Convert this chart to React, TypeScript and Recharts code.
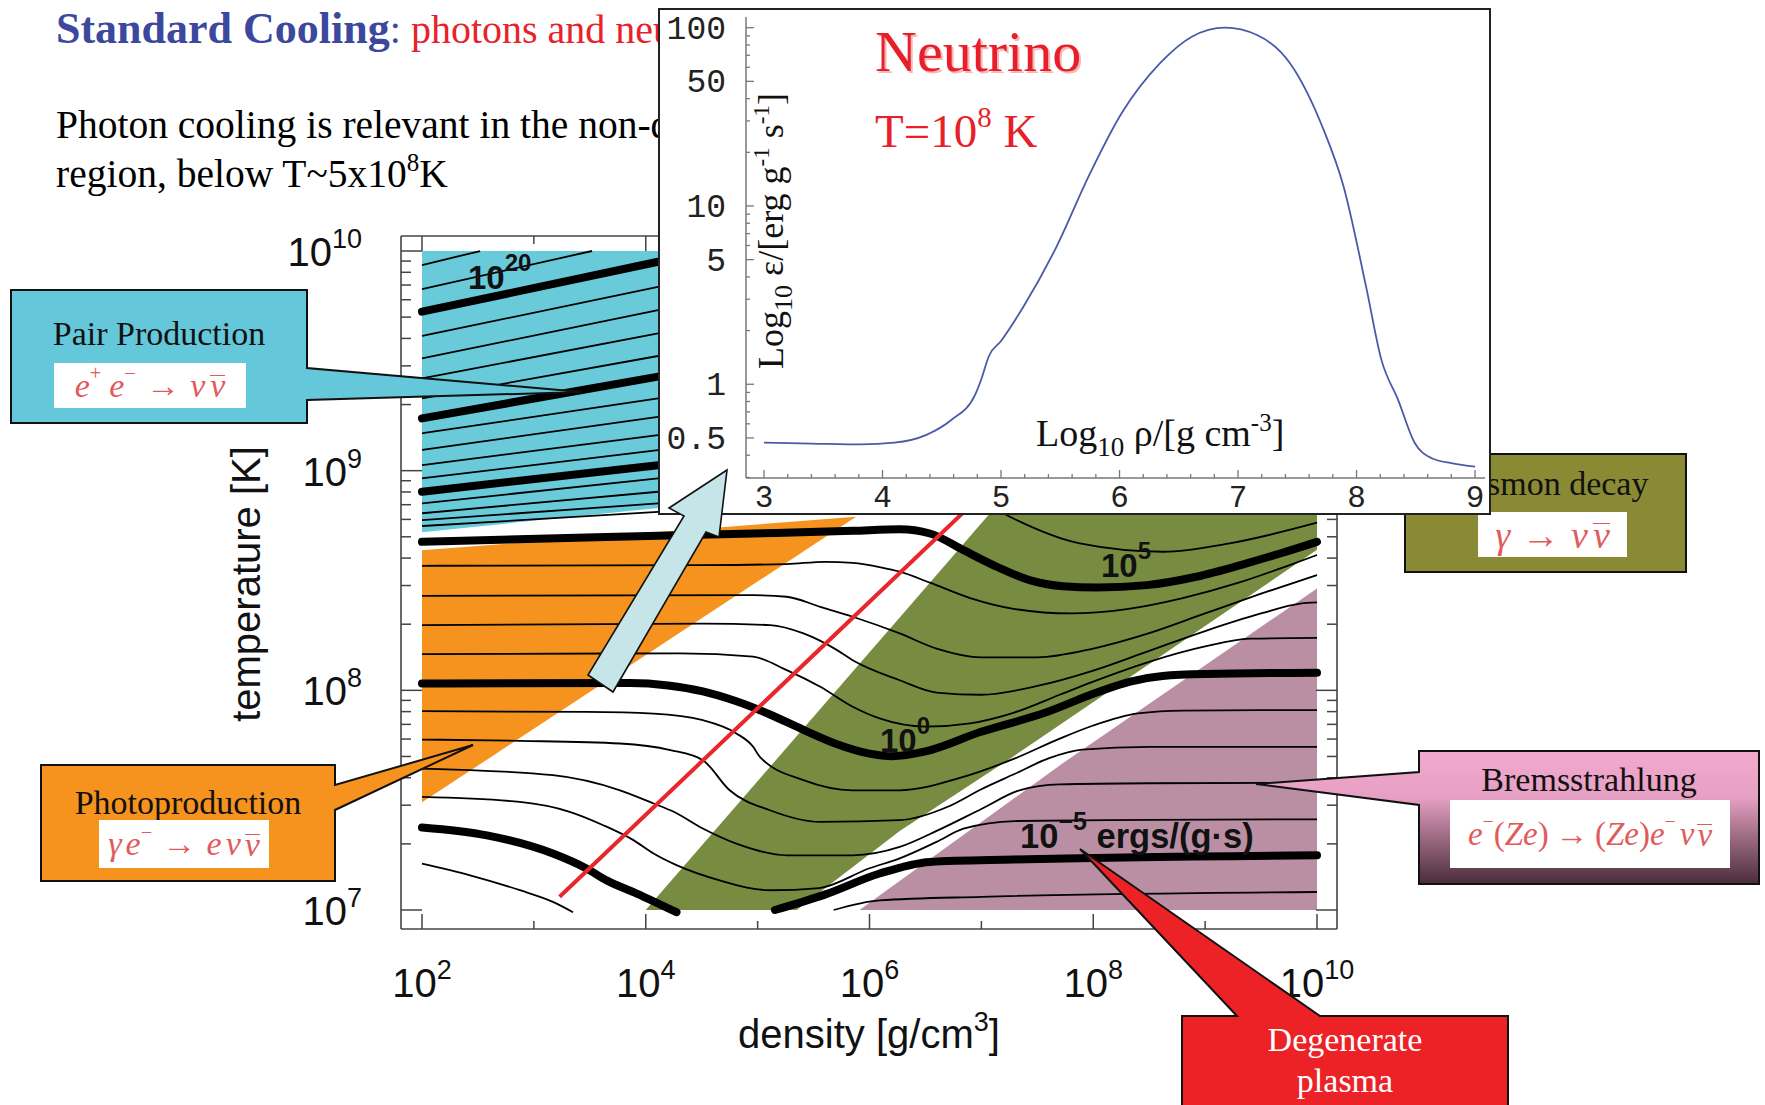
import React from 'react';
import { ComposedChart, LineChart, Line, Area, XAxis, YAxis } from 'recharts';

type Pt = [number, number | null];

const serif = '"Liberation Serif", "Times New Roman", serif';
const sans = '"Liberation Sans", Arial, sans-serif';
const mono = '"Liberation Mono", "Courier New", monospace';

// ---------- main chart axes (log10 density, log10 temperature) ----------
const DENSITY_TICKS = [2, 3, 4, 5, 6, 7, 8, 9, 10];
const TEMP_TICKS: number[] = [];
for (const k of [7, 8, 9]) for (let d = 1; d <= 9; d++) TEMP_TICKS.push(k + Math.log10(d));
TEMP_TICKS.push(10);
const X_DOMAIN: [number, number] = [1.8123, 10.1787];
const Y_DOMAIN: [number, number] = [6.9135, 10.0683];

// ---------- coloured regions: [log rho, low log T, high log T] ----------
const PAIR_REGION = [[2, 8.72, 10], [4.11, 8.83, 10], [4.5, 8.85, 10]];
const PHOTO_REGION = [[2, 7.49, 8.638], [5.88, 8.79, 8.79]];
const PLASMA_REGION = [[4.0, 7.0, 7.0], [5.35, 7.0, 7.792], [6.27, 7.36, 8.332], [7.23, 7.68, 8.896], [7.41, 7.742, 9.0], [10, 8.64, 9.0]];
const BREMS_REGION = [[5.91, 7.0, 7.0], [7.76, 7.0, 7.68], [10, 7.0, 8.464]];

// ---------- emissivity contours (log rho, log T) ----------
const C22: Pt[] = [[2, 9.936], [2.52, 10.0]];
const C21: Pt[] = [[2, 9.826], [3.52, 10.0]];
const C20: Pt[] = [[2, 9.724], [4.11, 9.951], [4.4, 9.982]];
const C19: Pt[] = [[2, 9.613], [4.11, 9.837], [4.4, 9.868]];
const C18: Pt[] = [[2, 9.511], [4.11, 9.731], [4.4, 9.761]];
const C17: Pt[] = [[2, 9.42], [4.11, 9.625], [4.4, 9.653]];
const C16: Pt[] = [[2, 9.329], [4.11, 9.522], [4.4, 9.549]];
const C15: Pt[] = [[2, 9.238], [4.11, 9.428], [4.4, 9.454]];
const C14: Pt[] = [[2, 9.17], [4.11, 9.329], [4.4, 9.351]];
const C13: Pt[] = [[2, 9.094], [4.11, 9.245], [4.4, 9.266]];
const C12: Pt[] = [[2, 9.025], [4.11, 9.162], [4.4, 9.181]];
const C11: Pt[] = [[2, 8.965], [4.11, 9.094], [4.4, 9.112]];
const C10: Pt[] = [[2, 8.904], [4.11, 9.025], [4.4, 9.042]];
const C9: Pt[] = [[2, 8.851], [4.11, 8.965], [4.4, 8.981]];
const C8: Pt[] = [[2, 8.806], [4.11, 8.904], [4.4, 8.918]];
const C7: Pt[] = [[2, 8.775], [4.11, 8.851], [4.6, 8.87]];
const C6: Pt[] = [[2, 8.748], [4.11, 8.812], [5.5, 8.86], [7.0, 8.86], [7.255, 8.79], [7.88, 8.669], [8.625, 8.631], [9.22, 8.669], [10, 8.763]];
const C5: Pt[] = [[2, 8.676], [3.47, 8.696], [4.96, 8.714], [5.85, 8.726], [6.27, 8.733], [6.54, 8.714], [6.84, 8.638], [7.14, 8.562], [7.43, 8.502], [7.73, 8.474], [8.03, 8.468], [8.48, 8.479], [8.92, 8.517], [9.37, 8.578], [9.67, 8.623], [10, 8.676]];
const C4: Pt[] = [[2, 8.567], [4.5, 8.57], [5.26, 8.575], [5.6, 8.585], [5.85, 8.58], [6.1, 8.56], [6.27, 8.54], [6.54, 8.49], [6.9, 8.42], [7.3, 8.37], [7.8, 8.35], [8.3, 8.37], [8.8, 8.42], [9.3, 8.49], [9.7, 8.56], [10, 8.616]];
const C3: Pt[] = [[2, 8.43], [4.96, 8.433], [5.26, 8.426], [5.56, 8.38], [5.85, 8.335], [6.27, 8.259], [6.6, 8.19], [7.0, 8.15], [7.5, 8.15], [8.0, 8.19], [8.5, 8.26], [9.0, 8.35], [9.5, 8.44], [10, 8.525]];
const C2: Pt[] = [[2, 8.297], [4.51, 8.304], [5.11, 8.297], [5.41, 8.259], [5.71, 8.183], [5.85, 8.137], [6.27, 8.046], [6.6, 7.99], [7.0, 7.98], [7.5, 8.02], [8.0, 8.09], [8.5, 8.18], [9.0, 8.27], [9.5, 8.35], [9.85, 8.395], [10, 8.4]];
const C1: Pt[] = [[2, 8.165], [4.31, 8.168], [4.96, 8.153], [5.26, 8.092], [5.56, 8.016], [5.85, 7.925], [6.09, 7.872], [6.5, 7.835], [6.9, 7.85], [7.3, 7.9], [7.7, 7.98], [8.0, 8.04], [8.5, 8.13], [9.0, 8.2], [9.4, 8.235], [10, 8.239]];
const C0: Pt[] = [[2, 8.031], [3.86, 8.033], [4.2, 8.022], [4.51, 7.995], [4.81, 7.95], [5.11, 7.89], [5.41, 7.82], [5.71, 7.755], [6.0, 7.712], [6.2, 7.7], [6.5, 7.722], [6.99, 7.81], [7.58, 7.9], [8.03, 7.99], [8.33, 8.04], [8.62, 8.065], [9.0, 8.074], [10, 8.08]];
const Cm1: Pt[] = [[2, 7.905], [3.47, 7.902], [4.07, 7.894], [4.51, 7.864], [4.81, 7.804], [4.96, 7.743], [5.02, 7.697], [5.41, 7.591], [5.85, 7.545], [6.27, 7.545], [6.8, 7.6], [7.3, 7.69], [7.7, 7.78], [8.0, 7.84], [8.4, 7.895], [8.8, 7.908], [10, 7.91]];
const Cm2: Pt[] = [[2, 7.776], [2.875, 7.77], [3.77, 7.758], [4.22, 7.728], [4.51, 7.682], [4.75, 7.545], [5.11, 7.454], [5.56, 7.401], [6.27, 7.409], [6.7, 7.47], [7.0, 7.55], [7.3, 7.62], [7.6, 7.69], [7.9, 7.73], [8.5, 7.743], [10, 7.743]];
const Cm3: Pt[] = [[2, 7.644], [3.17, 7.614], [3.77, 7.545], [4.07, 7.485], [4.25, 7.447], [4.51, 7.371], [4.81, 7.302], [5.26, 7.249], [5.85, 7.249], [6.27, 7.287], [6.6, 7.36], [7.0, 7.46], [7.34, 7.545], [7.7, 7.572], [8.5, 7.577], [10, 7.579]];
const Cm4: Pt[] = [[2, 7.515], [2.875, 7.492], [3.32, 7.447], [3.62, 7.386], [3.89, 7.318], [4.07, 7.257], [4.275, 7.204], [4.66, 7.135], [5.11, 7.09], [5.55, 7.1], [6.0, 7.19], [6.27, 7.235], [6.6, 7.31], [6.84, 7.37], [7.3, 7.405], [8.5, 7.41], [10, 7.413]];
const Cm5: Pt[] = [[2, 7.376], [2.58, 7.34], [3.17, 7.257], [3.47, 7.189], [3.65, 7.135], [3.92, 7.075], [4.275, 6.99], [4.7, null], [5.155, 7.0], [5.6, 7.07], [6.09, 7.166], [6.54, 7.219], [7.29, 7.23], [10, 7.249]];
const Cm6: Pt[] = [[2, 7.211], [2.43, 7.158], [2.875, 7.09], [3.17, 7.037], [3.35, 6.99], [4.5, null], [5.68, 7.0], [6.09, 7.044], [7.0, 7.06], [10, 7.082]];
const DEGENERACY_LINE: Pt[] = [[3.23, 7.06], [7.2, 8.985]];

const THIN = [C22, C21, C19, C18, C17, C16, C14, C13, C12, C11, C9, C8, C7, C6, C4, C3, C2, C1, Cm1, Cm2, Cm3, Cm4, Cm6];
const THICK = [C20, C15, C10, C5, C0, Cm5];

// ---------- inset: neutrino emissivity at T = 1e8 K ----------
const NU_LOGRHO = [3.0, 3.4, 3.82, 4.1, 4.37, 4.58, 4.78, 4.83, 4.9, 5.0, 5.19, 5.47, 5.74, 6.02, 6.34, 6.61, 6.89, 7.16, 7.44, 7.71, 7.89, 8.08, 8.21, 8.35, 8.49, 8.63, 8.81, 9.0];
const NU_EPS = [0.47, 0.465, 0.46, 0.47, 0.52, 0.63, 0.87, 1.05, 1.45, 1.75, 2.73, 5.94, 14.7, 33.3, 63, 89, 100, 91, 63, 28, 12.9, 3.54, 1.37, 0.82, 0.47, 0.386, 0.36, 0.345];
const INSET_X_LABELS = [3, 4, 5, 6, 7, 8, 9];
const INSET_X_TICKS = Array.from({ length: 31 }, (_, i) => +(3 + i * 0.2).toFixed(1));
const INSET_Y_TICKS = [0.3, 0.4, 0.5, 0.6, 0.7, 0.8, 0.9, 1, 2, 3, 4, 5, 6, 7, 8, 9, 10, 20, 30, 40, 50, 60, 70, 80, 90, 100];
const INSET_Y_LABELS = [0.5, 1, 5, 10, 50, 100];

const toXY = (pts: Pt[]) => pts.map(([x, y]) => ({ x, y }));
const toRange = (rows: number[][]) => rows.map(([x, lo, hi]) => ({ x, r: [lo, hi] }));
const isInt = (v: number) => Math.abs(v - Math.round(v)) < 1e-6;
const FRAME = '#444';

const BottomTick = (p: any) => {
  const { x, y, payload } = p;
  const v = payload.value;
  const even = v % 2 === 0;
  return (
    <g>
      <line x1={x} x2={x} y1={y} y2={y - (even ? 15 : 8)} stroke={FRAME} strokeWidth={1.5} />
      {even && (
        <text x={x} y={y + 68} textAnchor="middle" fontFamily={sans} fontSize={40} fill="#111">
          10<tspan dy={-18} fontSize={27}>{v}</tspan>
        </text>
      )}
    </g>
  );
};
const TopTick = (p: any) => {
  const { x, y, payload } = p;
  const even = payload.value % 2 === 0;
  return <line x1={x} x2={x} y1={y} y2={y + (even ? 15 : 8)} stroke={FRAME} strokeWidth={1.5} />;
};
const LeftTick = (p: any) => {
  const { x, y, payload } = p;
  const v = payload.value;
  const major = isInt(v);
  return (
    <g>
      <line x1={x} x2={x + (major ? 21 : 10)} y1={y} y2={y} stroke={FRAME} strokeWidth={1.5} />
      {major && (
        <text x={x - 39} y={y + 15} textAnchor="end" fontFamily={sans} fontSize={40} fill="#111">
          10<tspan dy={-18} fontSize={27}>{Math.round(v)}</tspan>
        </text>
      )}
    </g>
  );
};
const RightTick = (p: any) => {
  const { x, y, payload } = p;
  const major = isInt(payload.value);
  return <line x1={x} x2={x - (major ? 21 : 10)} y1={y} y2={y} stroke={FRAME} strokeWidth={1.5} />;
};

const InsetXTick = (p: any) => {
  const { x, y, payload } = p;
  const v = payload.value;
  const major = INSET_X_LABELS.includes(v);
  return (
    <g>
      <line x1={x} x2={x} y1={y} y2={y - (major ? 8 : 4)} stroke="#777" strokeWidth={1.3} />
      {major && (
        <text x={x} y={y + 29} textAnchor="middle" fontFamily={mono} fontSize={31} fill="#222">{v}</text>
      )}
    </g>
  );
};
const InsetYTick = (p: any) => {
  const { x, y, payload } = p;
  const v = payload.value;
  const major = INSET_Y_LABELS.includes(v);
  return (
    <g>
      <line x1={x} x2={x + (major ? 8 : 4)} y1={y} y2={y} stroke="#777" strokeWidth={1.3} />
      {major && (
        <text x={x - 20} y={y + 11} textAnchor="end" fontFamily={mono} fontSize={33} fill="#222">{v}</text>
      )}
    </g>
  );
};

const abs = (l: number, t: number, extra: any = {}) => ({ position: 'absolute' as const, left: l, top: t, ...extra });

function MainChart() {
  const axisLine = { stroke: FRAME, strokeWidth: 1.6 };
  return (
    <div style={abs(0, 0)}>
      <ComposedChart width={1765} height={1105} margin={{ top: 196, right: 368, bottom: 136, left: 341 }}>
        <XAxis xAxisId="b" orientation="bottom" dataKey="x" type="number" domain={X_DOMAIN} allowDataOverflow ticks={DENSITY_TICKS} interval={0} height={40} tickSize={0} tickMargin={0} tickLine={false} axisLine={axisLine} tick={<BottomTick />} />
        <XAxis xAxisId="t" orientation="top" dataKey="x" type="number" domain={X_DOMAIN} allowDataOverflow ticks={DENSITY_TICKS} interval={0} height={40} tickSize={0} tickMargin={0} tickLine={false} axisLine={axisLine} tick={<TopTick />} />
        <YAxis yAxisId="l" orientation="left" type="number" domain={Y_DOMAIN} allowDataOverflow ticks={TEMP_TICKS} interval={0} width={60} tickSize={0} tickMargin={0} tickLine={false} axisLine={axisLine} tick={<LeftTick />} />
        <YAxis yAxisId="r" orientation="right" type="number" domain={Y_DOMAIN} allowDataOverflow ticks={TEMP_TICKS} interval={0} width={60} tickSize={0} tickMargin={0} tickLine={false} axisLine={axisLine} tick={<RightTick />} />
        <Area xAxisId="b" yAxisId="l" data={toRange(PAIR_REGION)} dataKey="r" type="linear" stroke="none" fill="#69cad9" fillOpacity={1} isAnimationActive={false} dot={false} activeDot={false} />
        <Area xAxisId="b" yAxisId="l" data={toRange(PHOTO_REGION)} dataKey="r" type="linear" stroke="none" fill="#f6921e" fillOpacity={1} isAnimationActive={false} dot={false} activeDot={false} />
        <Area xAxisId="b" yAxisId="l" data={toRange(PLASMA_REGION)} dataKey="r" type="linear" stroke="none" fill="#788c41" fillOpacity={1} isAnimationActive={false} dot={false} activeDot={false} />
        <Area xAxisId="b" yAxisId="l" data={toRange(BREMS_REGION)} dataKey="r" type="linear" stroke="none" fill="#bb8fa3" fillOpacity={1} isAnimationActive={false} dot={false} activeDot={false} />
        {THIN.map((c, i) => (
          <Line key={'thin' + i} xAxisId="b" yAxisId="l" data={toXY(c)} dataKey="y" type="monotone" stroke="#000" strokeWidth={1.8} dot={false} activeDot={false} isAnimationActive={false} />
        ))}
        {THICK.map((c, i) => (
          <Line key={'thick' + i} xAxisId="b" yAxisId="l" data={toXY(c)} dataKey="y" type="monotone" stroke="#000" strokeWidth={8} strokeLinecap="round" strokeLinejoin="round" dot={false} activeDot={false} isAnimationActive={false} />
        ))}
        <Line xAxisId="b" yAxisId="l" data={toXY(DEGENERACY_LINE)} dataKey="y" type="linear" stroke="#e8262b" strokeWidth={4} dot={false} activeDot={false} isAnimationActive={false} />
      </ComposedChart>
    </div>
  );
}

function Inset() {
  const data = NU_LOGRHO.map((x, i) => ({ x, y: NU_EPS[i] }));
  return (
    <div style={abs(658, 8, { width: 833, height: 507, background: '#fff' })}>
      <LineChart width={833} height={507} data={data} margin={{ top: 9, right: 6, bottom: 7, left: 28 }}>
        <XAxis dataKey="x" type="number" domain={[2.848, 9.084]} allowDataOverflow ticks={INSET_X_TICKS} interval={0} height={30} tickSize={0} tickMargin={0} tickLine={false} axisLine={{ stroke: '#777', strokeWidth: 1.5 }} tick={<InsetXTick />} />
        <YAxis type="number" scale="log" domain={[0.298, 114.8]} allowDataOverflow ticks={INSET_Y_TICKS} interval={0} width={60} tickSize={0} tickMargin={0} tickLine={false} axisLine={{ stroke: '#777', strokeWidth: 1.5 }} tick={<InsetYTick />} />
        <Line dataKey="y" type="monotone" stroke="#4b5aa8" strokeWidth={1.8} dot={false} activeDot={false} isAnimationActive={false} />
      </LineChart>
      <svg width={833} height={507} style={abs(0, 0)}>
        <text x={219} y={65} fontFamily={serif} fontSize={58} fill="#f4b8b8">Neutrino</text>
        <text x={217} y={63} fontFamily={serif} fontSize={58} fill="#e81e28">Neutrino</text>
        <text x={217} y={139} fontFamily={serif} fontSize={47} fill="#e81e28">
          T=10<tspan dy={-20} fontSize={29}>8</tspan><tspan dy={20}> K</tspan>
        </text>
        <text transform="translate(125,223) rotate(-90)" textAnchor="middle" fontFamily={serif} fontSize={36} fill="#111">
          Log<tspan dy={9} fontSize={26}>10</tspan><tspan dy={-9}> ε/[erg g</tspan><tspan dy={-14} fontSize={23}>-1</tspan><tspan dy={14}> s</tspan><tspan dy={-14} fontSize={23}>-1</tspan><tspan dy={14}>]</tspan>
        </text>
        <text x={378} y={438} fontFamily={serif} fontSize={38} fill="#111">
          Log<tspan dy={10} fontSize={27}>10</tspan><tspan dy={-10}> ρ/[g cm</tspan><tspan dy={-15} fontSize={25}>-3</tspan><tspan dy={15}>]</tspan>
        </text>
      </svg>
      <div style={abs(0, 0, { width: 833, height: 507, border: '2px solid #222', boxSizing: 'border-box' })} />
    </div>
  );
}

const mathStyle = (l: number, t: number, w: number, h: number, fs: number) =>
  abs(l, t, {
    width: w, height: h, background: '#fff', display: 'flex', alignItems: 'center', justifyContent: 'center',
    fontFamily: serif, fontStyle: 'italic', fontSize: fs, color: '#e05c5c', whiteSpace: 'nowrap', lineHeight: 1,
  });
const bar: React.CSSProperties = { display: 'inline-block', borderTop: '1.5px solid #e05c5c', lineHeight: '0.55em', paddingTop: 1 };
const sup: React.CSSProperties = { fontSize: '0.6em', position: 'relative', top: '-0.6em', fontStyle: 'normal' };
const arrow: React.CSSProperties = { fontStyle: 'normal', margin: '0 0.3em' };

export default function App() {
  return (
    <div style={abs(0, 0, { width: 1765, height: 1105, background: '#fff', overflow: 'hidden' })}>
      {/* slide text */}
      <svg width={1765} height={1105} style={abs(0, 0)}>
        <text x={56} y={43} fontFamily={serif}>
          <tspan fontWeight="bold" fontSize={44} fill="#3c479e">Standard Cooling</tspan>
          <tspan fontSize={40} fill="#3c479e">: </tspan>
          <tspan fontSize={40} fill="#e8222a">photons and neutrinos</tspan>
        </text>
        <text x={56} y={138} fontFamily={serif} fontSize={39.5} fill="#000">Photon cooling is relevant in the non-degenerate</text>
        <text x={56} y={187} fontFamily={serif} fontSize={39.5} fill="#000">
          region, below T~5x10<tspan dy={-16} fontSize={25}>8</tspan><tspan dy={16}>K</tspan>
        </text>
        <text x={869} y={1048} textAnchor="middle" fontFamily={sans} fontSize={40} fill="#111">
          density [g/cm<tspan dy={-17} fontSize={27}>3</tspan><tspan dy={17}>]</tspan>
        </text>
        <text transform="translate(260,584) rotate(-90)" textAnchor="middle" fontFamily={sans} fontSize={40} fill="#111">temperature [K]</text>
      </svg>

      <MainChart />

      {/* contour labels */}
      <svg width={1765} height={1105} style={abs(0, 0)}>
        <text x={468} y={289} fontFamily={sans} fontWeight="bold" fontSize={33} fill="#111">
          10<tspan dy={-18} fontSize={24}>20</tspan>
        </text>
        <text x={1101} y={577} fontFamily={sans} fontWeight="bold" fontSize={33} fill="#111">
          10<tspan dy={-18} fontSize={24}>5</tspan>
        </text>
        <text x={880} y={752} fontFamily={sans} fontWeight="bold" fontSize={33} fill="#111">
          10<tspan dy={-18} fontSize={24}>0</tspan>
        </text>
        <text x={1020} y={848} fontFamily={sans} fontWeight="bold" fontSize={34.5} fill="#111">
          10<tspan dy={-18} fontSize={25}>−5</tspan><tspan dy={18}> ergs/(g·s)</tspan>
        </text>
      </svg>

      {/* callouts */}
      <svg width={1765} height={1105} style={abs(0, 0)}>
        <defs>
          <linearGradient id="bremsGrad" x1="0" y1="751" x2="0" y2="884" gradientUnits="userSpaceOnUse">
            <stop offset="0" stopColor="#f2a9cf" />
            <stop offset="0.35" stopColor="#e6a0c3" />
            <stop offset="0.65" stopColor="#9c6a82" />
            <stop offset="1" stopColor="#4a2c3c" />
          </linearGradient>
        </defs>
        <polygon points="11,290 307,290 307,368 582,392 307,400 307,423 11,423" fill="#64c8da" stroke="#111" strokeWidth={2} />
        <text x={159} y={345} textAnchor="middle" fontFamily={serif} fontSize={34} fill="#111">Pair Production</text>
        <polygon points="41,765 335,765 335,785 473,745 335,810 335,881 41,881" fill="#f6921e" stroke="#111" strokeWidth={2} />
        <text x={188} y={814} textAnchor="middle" fontFamily={serif} fontSize={34} fill="#111">Photoproduction</text>
        <rect x={1405} y={454} width={281} height={118} fill="#8a8a34" stroke="#111" strokeWidth={2} />
        <text x={1546} y={495} textAnchor="middle" fontFamily={serif} fontSize={34} fill="#111">Plasmon decay</text>
        <polygon points="1419,751 1759,751 1759,884 1419,884 1419,805 1256,784 1419,772" fill="url(#bremsGrad)" stroke="#111" strokeWidth={2} />
        <text x={1589} y={791} textAnchor="middle" fontFamily={serif} fontSize={34} fill="#111">Bremsstrahlung</text>
        <polygon points="1182,1016 1237,1016 1080,849 1320,1016 1508,1016 1508,1112 1182,1112" fill="#ec2227" stroke="#111" strokeWidth={2} />
        <text x={1345} y={1051} textAnchor="middle" fontFamily={serif} fontSize={34} fill="#fff">Degenerate</text>
        <text x={1345} y={1092} textAnchor="middle" fontFamily={serif} fontSize={34} fill="#fff">plasma</text>
      </svg>
      <div style={mathStyle(54, 363, 192, 45, 34)}>
        <span>e</span><span style={sup}>+</span><span style={{ marginLeft: 8 }}>e</span><span style={sup}>−</span>
        <span style={arrow}>→</span><span>ν</span><span style={{ ...bar, marginLeft: 5 }}>ν</span>
      </div>
      <div style={mathStyle(99, 820, 170, 48, 34)}>
        <span>γ</span><span style={{ marginLeft: 4 }}>e</span><span style={sup}>−</span>
        <span style={arrow}>→</span><span>e</span><span style={{ marginLeft: 4 }}>ν</span><span style={{ ...bar, marginLeft: 4 }}>ν</span>
      </div>
      <div style={mathStyle(1478, 512, 149, 45, 38)}>
        <span>γ</span><span style={arrow}>→</span><span>ν</span><span style={{ ...bar, marginLeft: 5 }}>ν</span>
      </div>
      <div style={mathStyle(1450, 800, 280, 68, 33)}>
        <span>e</span><span style={sup}>−</span><span style={{ fontStyle: 'normal' }}>(</span><span>Ze</span><span style={{ fontStyle: 'normal' }}>)</span>
        <span style={{ fontStyle: 'normal', margin: '0 0.2em' }}>→</span>
        <span style={{ fontStyle: 'normal' }}>(</span><span>Ze</span><span style={{ fontStyle: 'normal' }}>)</span><span>e</span><span style={sup}>−</span>
        <span style={{ marginLeft: 4 }}>ν</span><span style={{ ...bar, marginLeft: 3 }}>ν</span>
      </div>

      <Inset />

      {/* arrow pointing to the inset */}
      <svg width={1765} height={1105} style={abs(0, 0)}>
        <polygon points="727,470 669,508 684,516 588,675 613,692 706,532 719,537" fill="#c6e5e8" stroke="#111" strokeWidth={1.6} strokeLinejoin="miter" />
      </svg>
    </div>
  );
}
